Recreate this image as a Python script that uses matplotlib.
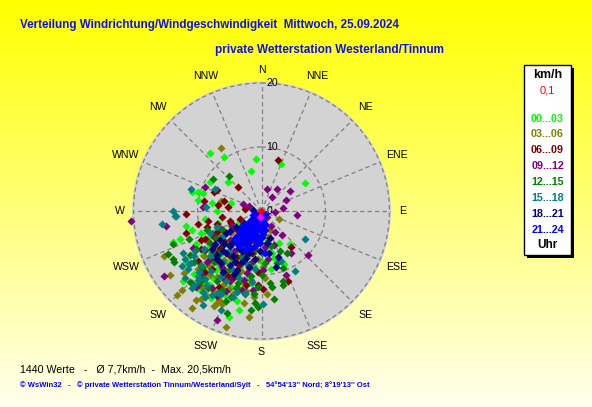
import numpy as np
import matplotlib
matplotlib.use("Agg")
import matplotlib.pyplot as plt
from matplotlib.patches import Rectangle

# ---------------- data (east, north components in km/h) ----------------
band_labels = ["00...03", "03...06", "06...09", "09...12",
               "12...15", "15...18", "18...21", "21...24"]
band_colors = ["#00ff00", "#808000", "#800000", "#800080",
               "#008000", "#008080", "#000080", "#0000ff"]

band_0003 = [(-8.0, 9.0), (-5.8, 8.5), (-0.9, 8.2), (3.0, 7.3), (-1.7, 6.3), (6.8, 4.3),
             (-5.3, 4.5), (-8.0, 4.6), (-10.8, 2.9), (-9.9, 3.0), (-9.1, 2.8), (-10.0, 1.7),
             (-7.7, 1.2), (-4.8, 1.2), (-11.8, -2.3), (-10.8, -2.9), (-12.8, -4.4), (-13.8, -4.8),
             (-11.8, -7.9), (-12.3, -10.9), (-8.7, -11.3), (-5.0, -16.6), (-3.5, -15.5), (2.7, -5.0),
             (4.4, -5.2), (1.7, -6.5), (3.5, -8.3), (-1.1, -12.8), (-7.0, 0.0),
             (-7.2, -3.1), (-6.0, -5.2), (-3.1, -4.0), (-8.3, -6.0), (-5.2, -8.1), (-2.1, -7.0),
             (-9.0, -8.8), (-4.0, -10.1), (-6.1, -12.0), (-1.0, -3.2), (0.5, -6.1), (-10.2, -5.1),
             (-7.1, -9.2), (-3.0, -12.2), (-5.0, -2.2), (1.5, -9.0), (-2.0, -10.3), (-8.1, -11.5),
             (-4.1, -6.4), (-6.6, -7.0), (-9.5, -3.5), (-3.6, -2.0), (0.0, -8.0), (-5.5, -10.8),
             (-8.8, -1.3), (-2.6, -5.5),
             (-6.8, -1.8), (-4.6, -4.9), (-9.2, -6.9), (-3.3, -8.7), (-7.6, -10.4), (-1.6, -11.2),
             (-5.7, -13.1), (-10.6, -9.8), (0.8, -4.3), (-2.4, -2.9), (-8.0, -3.9), (-4.9, -11.7),
             (-6.9, -5.9), (-1.2, -8.6), (-9.6, -12.4), (-3.9, -14.1), (1.9, -7.3), (-7.9, -13.6)]
band_0306 = [(-6.4, 9.9), (-6.3, 1.5), (2.8, -1.2), (1.4, -3.0), (-15.2, -7.0), (-14.3, -10.0),
             (-12.1, -9.7), (-12.4, -12.4), (-13.2, -13.1), (-10.2, -13.9), (-9.4, -13.8), (-8.8, -13.4),
             (-10.8, -15.2), (-7.4, -14.9), (-7.0, -14.3), (-6.6, -13.9), (-5.5, -18.1), (-2.0, -16.6),
             (0.9, -13.0), (-1.1, -13.4),
             (-6.5, -4.0), (-4.0, -8.0), (-8.0, -10.0), (-3.0, -11.0), (-6.0, -11.5), (-2.0, -9.0),
             (-5.0, -6.5), (-9.0, -7.0), (-1.0, -5.0), (-7.5, -12.5), (-4.5, -13.0), (0.5, -10.5),
             (-3.5, -6.0), (-10.0, -9.0), (-5.5, -9.5), (-8.5, -4.5), (1.0, -4.0), (-2.5, -12.5),
             (-6.8, -8.2), (-0.5, -7.5), (-4.8, -3.5), (-9.3, -11.8),
             (-7.3, -6.2), (-3.2, -9.4), (-9.7, -10.6), (-5.1, -12.2), (-1.7, -10.8), (-8.2, -8.6),
             (-4.2, -4.8), (-6.1, -14.6), (0.2, -8.8), (-10.9, -11.3), (-2.7, -14.4), (-5.9, -7.7),
             (-8.9, -12.9), (-3.9, -11.9), (-1.3, -6.6), (-7.0, -10.3)]
band_0609 = [(2.5, 7.9), (-3.6, 3.7), (-7.0, 3.3), (-7.4, 2.9), (-9.0, 1.6), (-5.8, 1.5),
             (-6.8, 0.9), (-5.2, 0.7), (-11.8, -0.5), (-2.6, 0.3), (-11.8, -3.4), (4.1, -11.0),
             (0.3, -12.2), (-0.6, -11.5), (4.6, -5.7), (-9.5, -4.5), (-5.0, -1.5),
             (-7.0, -2.0), (-5.5, -3.5), (-8.5, -2.5), (-4.0, -2.8), (-6.5, -5.8), (-3.0, -5.0),
             (-8.0, -7.5), (-2.0, -3.5), (-5.0, -7.0), (-7.5, -4.0), (-9.5, -6.0), (-3.5, -8.5),
             (-6.0, -9.0), (-1.5, -6.5), (-4.5, -10.5), (-8.8, -9.5), (-0.5, -9.5), (-2.5, -11.5),
             (-6.2, -1.0), (-10.0, -2.0),
             (-6.9, -3.3), (-4.7, -1.9), (-8.9, -4.3), (-2.9, -6.8), (-5.8, -4.7), (-7.7, -9.0),
             (-3.9, -7.2), (-9.9, -7.8), (-1.2, -4.6), (-5.3, -10.1), (-7.2, -6.8), (-3.3, -1.2),
             (-8.4, -1.6), (-6.6, -11.8)]
band_0912 = [(-8.8, 3.7), (0.8, 3.4), (2.4, 3.4), (4.4, 3.2), (1.7, 2.2), (3.8, 1.7),
             (-2.9, 1.1), (-2.0, 0.8), (2.1, -0.1), (3.4, 0.4), (5.6, -0.7), (0.9, -1.0),
             (1.5, -2.3), (2.1, -3.3), (3.2, -3.7), (-20.4, -1.5), (-15.0, -2.4), (-9.2, 0.7),
             (-15.2, -10.2), (-10.3, -11.9), (-6.9, -17.0), (7.2, -6.8), (3.8, -10.0), (-1.4, -12.4),
             (4.6, -6.6), (2.0, -5.3), (-10.7, -5.8),
             (-5.0, -4.5), (-2.5, -6.0), (-7.0, -6.5), (-4.0, -9.5), (0.0, -4.0), (-6.0, -10.5),
             (-1.5, -8.0), (-8.5, -8.0), (-3.5, -3.0), (-5.5, -12.5), (1.0, -7.5), (-7.8, -12.0),
             (-2.8, -10.8), (-9.5, -9.8), (-0.5, -2.0), (-6.3, -2.8),
             (-4.3, -6.3), (-7.7, -3.6), (-1.9, -4.9), (-6.1, -8.7), (-3.1, -12.3), (0.6, -5.7),
             (-8.9, -6.1), (-5.0, -10.9), (-2.2, -9.7), (-9.9, -11.6), (-4.6, -2.3), (-6.9, -13.3),
             (0.2, -9.2)]
band_1215 = [(-5.1, 5.5), (-7.6, 5.0), (-13.9, -5.1), (-14.6, -6.7), (-13.7, -8.0), (-13.9, -7.5),
             (-11.1, -6.8), (-11.1, -11.1), (-11.4, -4.3), (-5.4, -16.0), (3.4, -8.9), (3.3, -10.9),
             (3.3, -11.6), (1.3, -11.3), (1.7, -11.8), (2.0, -13.8), (-1.0, -14.3), (-0.5, -15.0),
             (-1.6, -15.5), (4.0, -6.5), (2.9, -6.2), (2.4, -8.2),
             (-6.0, -3.0), (-3.5, -5.5), (-8.0, -5.0), (-5.0, -9.0), (-2.0, -8.5), (-7.0, -11.0),
             (-4.0, -12.0), (0.0, -10.0), (-9.0, -10.5), (-1.0, -6.0), (-6.5, -6.5), (-3.0, -2.5),
             (-8.5, -3.0), (-4.5, -7.5), (1.5, -5.5), (-2.5, -13.0), (-7.5, -8.0), (-5.5, -14.0),
             (-10.5, -8.0), (-0.5, -11.8), (-3.8, -9.8),
             (-5.3, -5.1), (-7.8, -6.6), (-3.1, -7.0), (-9.3, -8.8), (-6.2, -12.4), (-1.6, -10.2),
             (-4.8, -13.5), (-8.3, -12.1), (-2.6, -3.9), (-7.1, -4.2), (0.6, -8.1), (-3.6, -11.2),
             (-10.2, -6.0), (-5.9, -9.6), (-1.1, -13.0), (-9.6, -11.1)]
band_1518 = [(-11.0, 3.4), (-7.2, 3.4), (-13.8, 0.0), (-13.5, -0.8), (-15.5, -2.0), (-13.3, -0.8),
             (-8.7, 0.6), (-11.3, -8.3), (-10.0, -10.2), (-9.2, -14.7), (-6.3, -15.5), (-7.7, -13.1),
             (-6.3, -13.0), (6.8, -4.3), (5.2, -9.3), (3.0, -7.8), (0.3, -14.5), (-2.6, -12.8),
             (-10.5, -7.0), (-11.5, -9.0), (-9.5, -8.5), (-10.0, -10.8), (-8.5, -11.5), (-12.0, -7.5),
             (-9.0, -6.0), (-6.0, -8.0), (-4.0, -4.5), (-7.5, -5.5), (-3.0, -7.5), (-5.5, -11.0),
             (-2.0, -4.5), (-8.0, -3.5), (-6.8, -12.8), (-1.0, -9.0), (-4.5, -13.5), (0.0, -6.5),
             (-10.8, -12.0), (-7.0, -2.5), (-3.5, -10.5), (-8.8, -13.5),
             (-11.0, -8.2), (-9.8, -9.6), (-12.5, -8.6), (-10.4, -6.2), (-8.9, -10.7), (-11.9, -10.4),
             (-7.9, -9.3), (-9.2, -12.6), (-5.1, -6.3), (-6.4, -10.1), (-3.9, -12.6), (-2.3, -8.3),
             (-8.1, -7.1), (-4.6, -9.0), (-6.1, -4.0), (-10.6, -11.5), (-12.2, -6.5), (-1.5, -11.1)]
band_1821 = [(-1.4, 0.2), (2.6, -7.2), (1.2, -6.6), (2.2, -8.7),
             (-1.0, -1.5), (-2.0, -2.5), (-3.0, -3.5), (-4.0, -4.2), (-5.0, -5.5), (-6.0, -6.2),
             (-2.5, -4.5), (-3.5, -5.8), (-4.5, -7.0), (-1.5, -3.5), (-0.5, -4.5), (-2.0, -6.5),
             (-5.5, -3.5), (-4.0, -2.5), (-6.5, -4.5), (-3.0, -8.0), (-1.0, -7.5), (0.5, -3.0),
             (-7.0, -7.5), (-5.0, -8.5), (0.8, -5.0), (-2.8, -1.8), (-6.0, -9.5), (-3.8, -9.2),
             (-7.8, -6.0), (0.0, -1.5),
             (-1.6, -2.2), (-2.6, -3.2), (-3.6, -4.4), (-4.6, -5.0), (-5.6, -6.6), (-3.1, -6.3),
             (-4.1, -7.9), (-1.9, -5.4), (-0.9, -3.8), (-5.9, -5.1), (-6.9, -6.8), (-2.4, -7.4),
             (-0.2, -6.2), (-4.9, -3.1), (-3.3, -2.6), (-6.4, -8.1), (-2.0, -8.8), (1.3, -4.2),
             (-7.3, -5.2), (-4.3, -9.9)]
band_2124 = [(0.0, -0.3), (-0.3, -0.6), (0.2, -1.0), (-0.6, -1.2), (-1.0, -1.0), (0.3, -1.6),
             (-0.4, -1.8), (-1.2, -1.8), (-1.8, -1.5), (0.4, -2.3), (-0.6, -2.5), (-1.5, -2.6),
             (-2.2, -2.2), (-2.6, -2.8), (0.3, -3.0), (-0.8, -3.2), (-1.8, -3.4), (-3.0, -3.4),
             (-3.6, -3.8), (0.2, -3.6), (-1.2, -3.9), (-2.4, -3.9), (-4.2, -4.2), (-0.5, -4.3),
             (-3.2, -4.6), (-1.8, -4.6), (-2.6, -5.2), (-0.2, -5.0), (-1.0, -5.4), (-3.8, -5.0),
             (-0.8, -0.4), (0.5, -0.5), (-1.4, -0.6), (0.6, -2.0), (-2.1, -3.0), (-1.0, -2.2),
             (-2.9, -2.2), (0.5, -6.6),
             (-0.1, -1.3), (-0.7, -2.0), (-1.5, -1.2), (-2.0, -1.9), (-0.3, -2.9), (-1.3, -3.0),
             (-2.5, -3.4), (-3.3, -3.0), (-0.1, -4.2), (-1.5, -4.3), (-2.9, -4.0), (-3.9, -4.5),
             (-0.6, -4.8), (-2.1, -5.0), (-3.4, -5.4), (-1.6, -5.9), (-2.6, -6.1)]
calm_points = [(-0.1, 0.05)]          # 0,1 km/h (red)
extra_points = [(-0.2, -0.9)]         # magenta mark near centre

bands = [band_0003, band_0306, band_0609, band_0912,
         band_1215, band_1518, band_1821, band_2124]

dir_labels = ["N", "NNE", "NE", "ENE", "E", "ESE", "SE", "SSE",
              "S", "SSW", "SW", "WSW", "W", "WNW", "NW", "NNW"]
ring_values = [0, 10, 20]

title1 = "Verteilung Windrichtung/Windgeschwindigkeit  Mittwoch, 25.09.2024"
title2 = "private Wetterstation Westerland/Tinnum"
stats_text = "1440 Werte   -   \u00d8 7,7km/h  -  Max. 20,5km/h"
footer_text = ("\u00a9 WsWin32   -   \u00a9 private Wetterstation Tinnum/Westerland/Sylt   -   "
               "54\u00b054'13'' Nord; 8\u00b019'13'' Ost")

# ---------------- figure ----------------
W, H = 592, 407
fig = plt.figure(figsize=(W / 100, H / 100), dpi=100)
FONT = ["Liberation Sans", "DejaVu Sans"]


def fx(x):
    return x / W


def fy(y):
    return 1 - y / H


# background gradient
bg = fig.add_axes([0, 0, 1, 1])
bg.set_axis_off()
grad = np.zeros((256, 1, 3))
t = np.linspace(0, 1, 256)[:, None]
grad[:, :, 0] = 1.0
grad[:, :, 1] = 1.0
grad[:, :, 2] = 0.93 * t
bg.imshow(grad, aspect="auto", extent=[0, 1, 0, 1], origin="upper")
bg.set_xlim(0, 1)
bg.set_ylim(0, 1)

# polar axes
cx, cy, R, rtop = 261.5, 211.0, 129.6, 20.25
ax = fig.add_axes([fx(cx - R), fy(cy + R), 2 * R / W, 2 * R / H], projection="polar")
ax.set_theta_zero_location("N")
ax.set_theta_direction(-1)
ax.set_rlim(0, rtop)
ax.set_facecolor("#d3d3d3")
ax.grid(False)
ax.set_xticks([])
ax.set_yticks([])
ax.spines["polar"].set_visible(False)

gcol = "#7f7f7f"
full = np.linspace(0, 2 * np.pi, 400)
for rv in ring_values[1:]:
    ax.plot(full, np.full_like(full, rv), color=gcol, lw=0.9, dashes=(3.5, 2.5), zorder=1)
for i in range(16):
    a = np.deg2rad(i * 22.5)
    ax.plot([a, a], [0, 20], color=gcol, lw=0.9, dashes=(3.5, 2.5), zorder=1)

for pts, col in zip(bands, band_colors):
    arr = np.array(pts)
    th = np.arctan2(arr[:, 0], arr[:, 1])
    rr = np.hypot(arr[:, 0], arr[:, 1])
    ax.scatter(th, rr, marker="D", s=17, color=col, linewidths=0, zorder=3, clip_on=False)

for pts, col in ((calm_points, "#ff0000"), (extra_points, "#ff00ff")):
    arr = np.array(pts)
    ax.scatter(np.arctan2(arr[:, 0], arr[:, 1]), np.hypot(arr[:, 0], arr[:, 1]),
               marker="D", s=17, color=col, linewidths=0, zorder=4)

for i, lab in enumerate(dir_labels):
    a = np.deg2rad(i * 22.5)
    r = 22.1 if i % 4 == 0 else 22.9
    ax.text(a, r, lab, ha="center", va="center", fontsize=7.6, family=FONT,
            color="black", clip_on=False)

for rv in ring_values:
    ax.annotate(str(rv), xy=(0, rv), xytext=(3.5, 0), textcoords="offset points",
                ha="left", va="center", fontsize=7.6, family=FONT, color="black", zorder=2)

# titles
blue = "#1010e8"
t1 = fig.text(fx(20), fy(25), title1, ha="left", va="center", color=blue,
              fontsize=10, fontweight="bold", family=FONT)
t2 = fig.text(fx(215), fy(49.5), title2, ha="left", va="center", color=blue,
              fontsize=10, fontweight="bold", family=FONT)
t3 = fig.text(fx(20.5), fy(369), stats_text, ha="left", va="center", color="black",
              fontsize=7.5, family=FONT)
t4 = fig.text(fx(20.5), fy(385.5), footer_text, ha="left", va="center", color="#0000ff",
              fontsize=5.5, fontweight="bold", family=FONT)

# legend box
fig.patches.append(Rectangle((fx(526.5), fy(257.5)), 47 / W, 190 / H, transform=fig.transFigure,
                             facecolor="black", edgecolor="none", zorder=5))
fig.patches.append(Rectangle((fx(524), fy(255)), 47 / W, 190 / H, transform=fig.transFigure,
                             facecolor="white", edgecolor="black", lw=1, zorder=6))
lx = 547.5
k1 = fig.text(fx(lx), fy(75), "km/h", ha="center", va="center", fontsize=8.5, fontweight="bold",
              family=FONT, color="black", zorder=7)
fig.text(fx(lx), fy(90.5), "0,1", ha="center", va="center", fontsize=8,
         family=FONT, color="#ff0000", zorder=7)
leg_texts = []
for i, (lab, col) in enumerate(zip(band_labels, band_colors)):
    leg_texts.append(fig.text(fx(lx), fy(118.5 + 15.9 * i), lab, ha="center", va="center",
                              fontsize=8.2, fontweight="bold", family=FONT, color=col, zorder=7))
fig.text(fx(lx), fy(245), "Uhr", ha="center", va="center", fontsize=8.5, fontweight="bold",
         family=FONT, color="black", zorder=7)

# fit text widths to the reference
fig.canvas.draw()
rend = fig.canvas.get_renderer()
for tt, target in ((t1, 380), (t2, 229), (t3, 211), (t4, 349), (k1, 29)):
    w = tt.get_window_extent(rend).width
    tt.set_fontsize(tt.get_fontsize() * target / w)
w0 = leg_texts[0].get_window_extent(rend).width
for tt in leg_texts:
    tt.set_fontsize(tt.get_fontsize() * 33 / w0)

fig.savefig("out.png", dpi=100)
